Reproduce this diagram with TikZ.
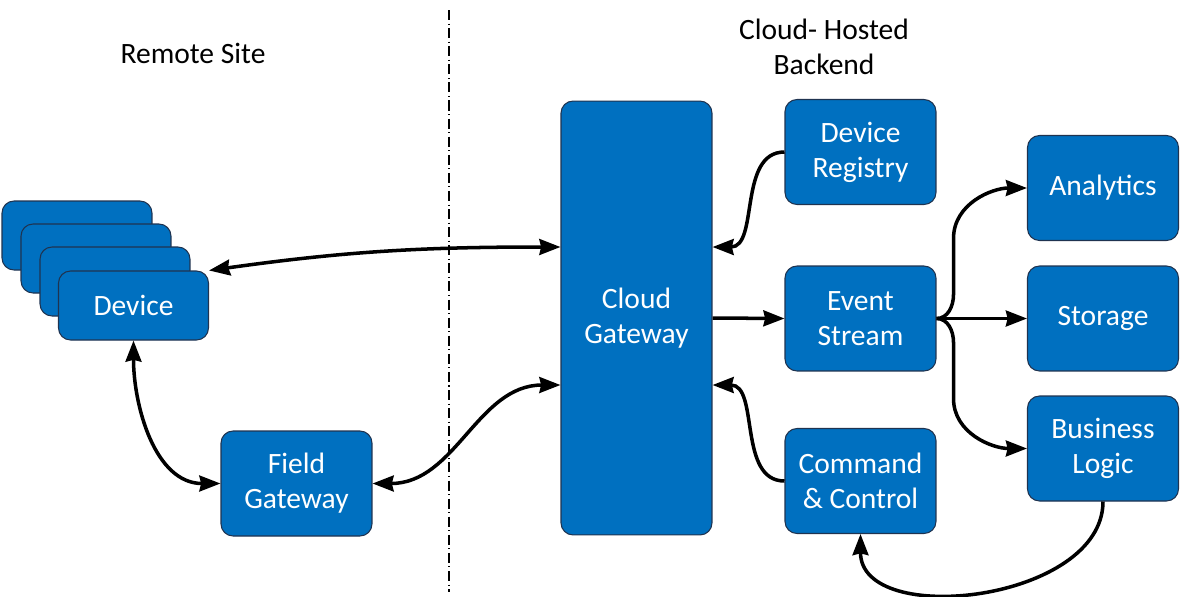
\documentclass[tikz,border=0pt]{standalone}
\usepackage{fontspec}
\setmainfont{Carlito}
\usepackage{tikz}
\usetikzlibrary{positioning, calc, arrows.meta}

\definecolor{boxblue}{HTML}{0070C0}
\definecolor{boxline}{HTML}{1F3350}

\begin{document}
\begin{tikzpicture}[x=0.02cm, y=-0.02cm, >={Stealth[length=12pt,width=9pt,inset=1pt]},
    every node/.style={font=\fontsize{16.8}{20}\selectfont},
    box/.style={draw=boxline, line width=0.6pt, fill=boxblue, text=white, rounded corners=0.24cm,
        align=center, inner sep=0pt, minimum width=3.02cm, minimum height=2.1cm},
    devbox/.style={box, minimum width=3cm, minimum height=1.38cm},
    link/.style={line width=2pt}]
        % Fix picture size
        \useasboundingbox (0,0) rectangle (1180,596);

        % Draw site divider
        \draw[line width=0.6pt, dash pattern=on 5.7pt off 2pt on 0.6pt off 2pt] (449,10) -- (449,592);

        % Section titles
        \node (remote) at (193,53) {Remote Site};
        \node[align=center] (backend) at (824,47) {Cloud- Hosted\\Backend};

        % Draw device stack
        \node[devbox] (dev1) at (77,235.5) {};
        \node[devbox] (dev2) at (96,258.5) {};
        \node[devbox] (dev3) at (115,281.5) {};
        \node[devbox] (device) at (133.5,305.5) {Device};

        % Draw gateways
        \node[box] (field) at (296.5,483.5) {Field\\Gateway};
        \node[box, minimum height=8.68cm] (cloud) at (636.5,318) {Cloud\\Gateway};

        % Draw backend services
        \node[box] (registry) at (860.5,152) {Device\\Registry};
        \node[box] (event) at (860.5,318.5) {Event\\Stream};
        \node[box] (command) at (860.5,481) {Command\\\& Control};
        \node[box] (analytics) at (1103,188) {Analytics};
        \node[box] (storage) at (1103,318.5) {Storage};
        \node[box] (logic) at (1103,448.5) {Business\\Logic};

        % Connection points on cloud gateway
        \coordinate (cwUp) at ($(cloud.west)+(0,-71)$);
        \coordinate (cwLow) at ($(cloud.west)+(0,67)$);
        \coordinate (ceUp) at ($(cloud.east)+(0,-71)$);
        \coordinate (ceLow) at ($(cloud.east)+(0,67)$);

        % Draw remote site links
        \draw[link, <->] (device.north east) to[out=8, in=180] (cwUp);
        \draw[link, <->] (device.south) to[out=-90, in=180] (field.west);
        \draw[link, <->] (field.east) to[out=0, in=180] (cwLow);

        % Draw backend links
        \draw[link, ->] (registry.west) to[out=180, in=0] (ceUp);
        \draw[link, ->] (cloud.east) -- (event.west);
        \draw[link, ->] (command.west) to[out=180, in=0] (ceLow);
        \draw[link, ->] (event.east) to[out=0, in=-90] ++(17,-24) -- ++(0,-56)
            to[out=90, in=180] (analytics.west);
        \draw[link, ->] (event.east) -- (storage.west);
        \draw[link, ->] (event.east) to[out=0, in=90] ++(17,24) -- ++(0,56)
            to[out=-90, in=180] (logic.west);
        \draw[link, ->] (logic.south) .. controls +(0,100) and +(0,95) .. (command.south);
    \end{tikzpicture}
\end{document}
